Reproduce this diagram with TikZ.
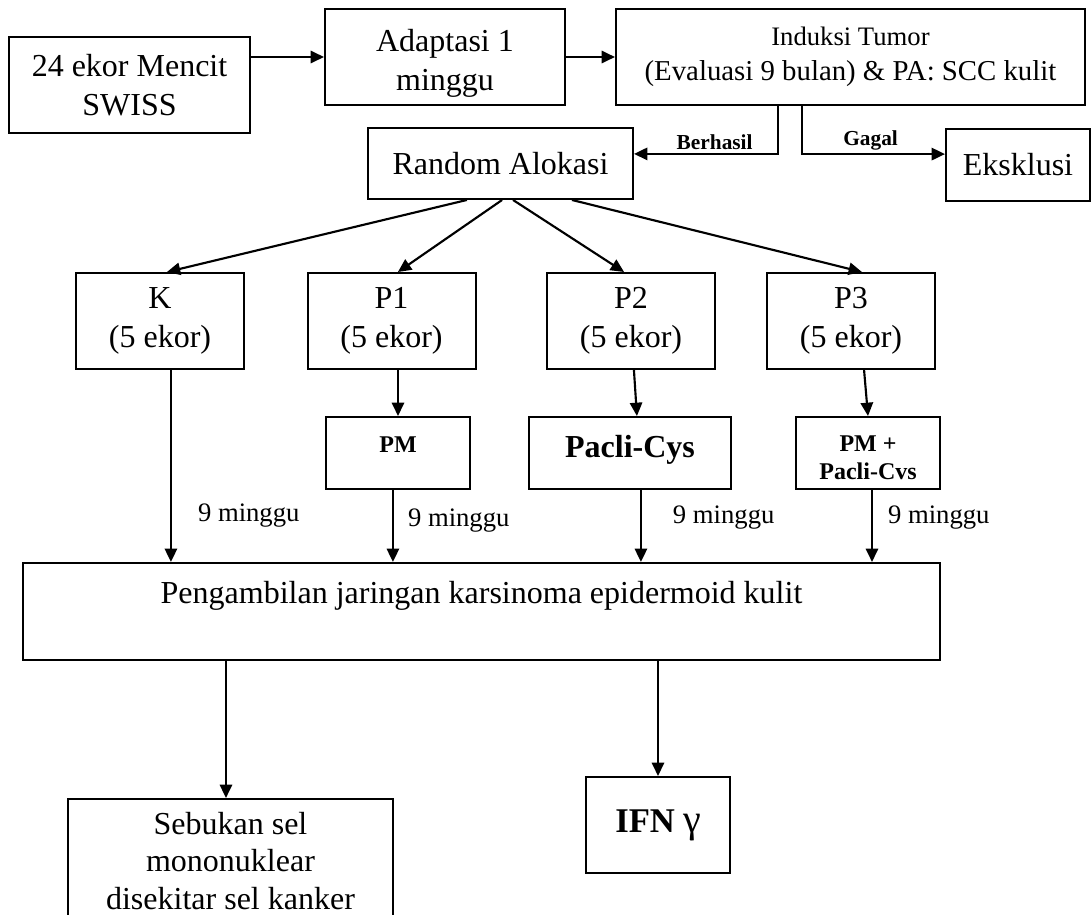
\documentclass[tikz,border=0pt]{standalone}
\usepackage{fontspec}
\setmainfont{Liberation Serif}
\usetikzlibrary{arrows.meta}

\tikzset{
  box/.style={draw, line width=0.75pt, inner sep=0pt, align=center, font=\fontsize{12}{14.6}\selectfont},
  arr/.style={-{Triangle[length=5pt,width=4.6pt]}, line width=0.8pt},
  lbl/.style={font=\fontsize{10}{12}\selectfont, inner sep=0pt},
  tag/.style={font=\fontsize{8}{10}\selectfont\bfseries, inner sep=1pt},
}

\begin{document}
\begin{tikzpicture}[x=0.375pt, y=-0.375pt]
      \path[use as bounding box, clip] (0,0) rectangle (1092,914);
      % top row
      \node[box, minimum width=90.4pt, minimum height=36pt] (mencit) at (129.5,85) {24 ekor Mencit\\SWISS};
      \node[box, minimum width=90pt, minimum height=36pt] (adaptasi) at (445,57) {\rule{0pt}{13.4pt}Adaptasi 1\\minggu};
      \node[box, minimum width=175.9pt, minimum height=36pt, font=\fontsize{10}{13}\selectfont] (induksi) at (850.5,57) {Induksi Tumor\\{\fontsize{10.8}{13}\selectfont (Evaluasi 9 bulan) \& PA: SCC kulit}};
      \node[box, minimum width=99.4pt, minimum height=26.6pt] (random) at (500.5,163.5) {Random Alokasi};
      \node[box, minimum width=54pt, minimum height=27pt] (eksklusi) at (1018,165) {Eksklusi};
      % groups
      \node[box, minimum width=63pt, minimum height=36pt] (K) at (160,321) {K\\(5 ekor)};
      \node[box, minimum width=63pt, minimum height=36pt] (P1) at (391.5,321) {P1\\(5 ekor)};
      \node[box, minimum width=63pt, minimum height=36pt] (P2) at (631,321) {P2\\(5 ekor)};
      \node[box, minimum width=63pt, minimum height=36pt] (P3) at (851,321) {P3\\(5 ekor)};
      % treatments
      \node[box, minimum width=54pt, minimum height=27pt, font=\fontsize{9}{11}\selectfont\bfseries] (pm) at (398,453) {\raisebox{3pt}[\height][\depth]{PM}};
      \node[box, minimum width=75.75pt, minimum height=27pt, font=\fontsize{12}{14}\selectfont\bfseries] (pacli) at (630,453) {\raisebox{1pt}[\height][\depth]{Pacli-Cys}};
      \node[box, minimum width=54pt, minimum height=27pt, font=\fontsize{9}{10.5}\selectfont\bfseries] (pmpacli) at (868,453) {\rule{0pt}{9.5pt}PM +\\Pacli-Cvs};
      % results
      \node[box, minimum width=343.9pt, minimum height=36.4pt] (ambil) at (481.5,611.5) {Pengambilan jaringan karsinoma epidermoid kulit\\~};
      \node[box, minimum width=121.9pt, minimum height=46.5pt, font=\fontsize{12}{13.9}\selectfont] (sebukan) at (230.5,861) {Sebukan sel\\mononuklear\\disekitar sel kanker};
      \node[box, minimum width=54pt, minimum height=36pt] (ifn) at (658,825) {{\fontsize{13}{15}\selectfont\bfseries IFN} {\fontsize{15}{15}\selectfont γ}};

      \draw[arr] (mencit.east |- adaptasi.west) -- (adaptasi.west);
      \draw[arr] (adaptasi.east) -- (induksi.west);
      \draw[arr] ([xshift=-27.2pt]induksi.south) |- ([yshift=3.6pt]random.east) node[tag, above, pos=0.72] {Berhasil};
      \draw[arr] ([xshift=-18.2pt]induksi.south) |- ([yshift=4.1pt]eksklusi.west) node[tag, above, pos=0.74] {Gagal};
      \foreach \grp/\from/\to in {K/-12.6/2.6, P1/0.6/2.4, P2/4.7/-2.6, P3/26.8/4.1}
      \draw[arr] ([xshift=\from pt]random.south) -- ([xshift=\to pt]\grp.north);
      \draw[arr] (pm.north |- P1.south) -- (pm.north);
      \draw[arr] ([xshift=1.1pt]P2.south) -- ([xshift=2.6pt]pacli.north);
      \draw[arr] ([xshift=4.9pt]P3.south) -- (pmpacli.north);
      % 9 minggu
      \draw[arr] ([xshift=4.1pt]K.south) -- ([xshift=4.1pt]K.south |- ambil.north) node[lbl, right=9.75pt, pos=0.76] {9 minggu};
      \draw[arr] ([xshift=-1.9pt]pm.south) -- ([xshift=-1.9pt]pm.south |- ambil.north) node[lbl, right=5.25pt, pos=0.42] {9 minggu};
      \draw[arr] ([xshift=4.1pt]pacli.south) -- ([xshift=4.1pt]pacli.south |- ambil.north) node[lbl, right=11.6pt, pos=0.38] {9 minggu};
      \draw[arr] ([xshift=1.5pt]pmpacli.south) -- ([xshift=1.5pt]pmpacli.south |- ambil.north) node[lbl, right=5.6pt, pos=0.38] {9 minggu};
      \draw[arr] ([xshift=-1.7pt]sebukan.north |- ambil.south) -- ([xshift=-1.7pt]sebukan.north);
      \draw[arr] (ifn.north |- ambil.south) -- (ifn.north);
\end{tikzpicture}
\end{document}
